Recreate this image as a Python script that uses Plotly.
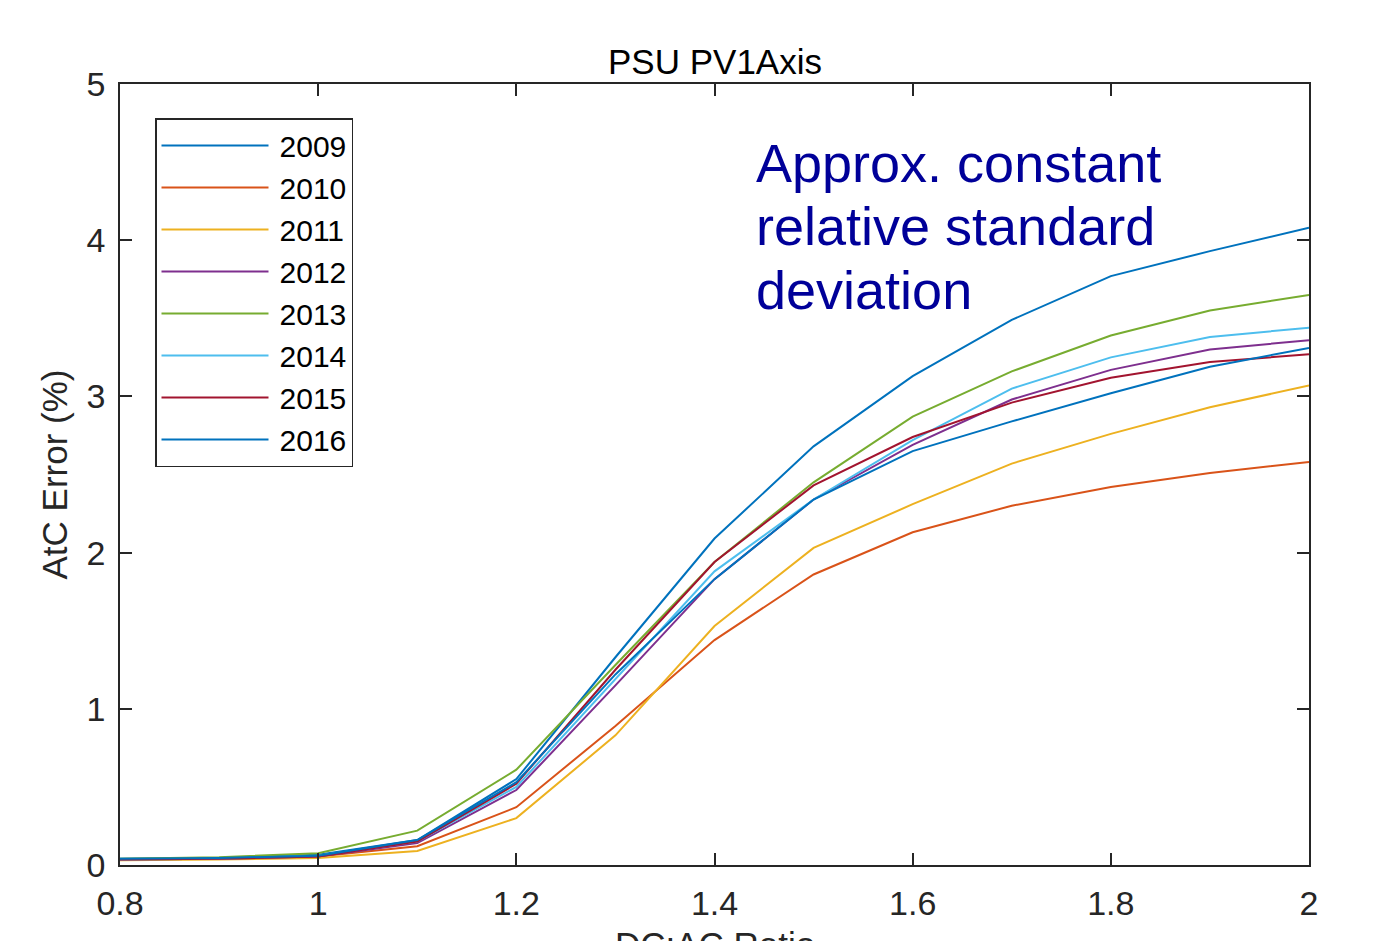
import plotly.graph_objects as go

x_ratio = [0.8, 0.9, 1.0, 1.1, 1.2, 1.3, 1.4, 1.5, 1.6, 1.7, 1.8, 1.9, 2.0]

y2009 = [0.040, 0.045, 0.065, 0.16, 0.55, 1.33, 2.09, 2.68, 3.13, 3.49, 3.77, 3.93, 4.08]
y2010 = [0.035, 0.040, 0.055, 0.12, 0.37, 0.89, 1.44, 1.86, 2.13, 2.30, 2.42, 2.51, 2.58]
y2011 = [0.030, 0.035, 0.045, 0.09, 0.30, 0.83, 1.53, 2.03, 2.31, 2.57, 2.76, 2.93, 3.07]
y2012 = [0.035, 0.040, 0.055, 0.14, 0.48, 1.15, 1.83, 2.34, 2.69, 2.98, 3.17, 3.30, 3.36]
y2013 = [0.040, 0.050, 0.075, 0.22, 0.61, 1.28, 1.94, 2.45, 2.87, 3.16, 3.39, 3.55, 3.65]
y2014 = [0.035, 0.040, 0.060, 0.15, 0.50, 1.19, 1.88, 2.34, 2.72, 3.05, 3.25, 3.38, 3.44]
y2015 = [0.035, 0.040, 0.055, 0.15, 0.52, 1.25, 1.94, 2.43, 2.74, 2.96, 3.12, 3.22, 3.27]
y2016 = [0.040, 0.045, 0.060, 0.16, 0.53, 1.22, 1.83, 2.34, 2.65, 2.84, 3.02, 3.19, 3.31]

years = ["2009", "2010", "2011", "2012", "2013", "2014", "2015", "2016"]
series = [y2009, y2010, y2011, y2012, y2013, y2014, y2015, y2016]
colors = ["#0072BD", "#D95319", "#EDB120", "#7E2F8E", "#77AC30", "#4DBEEE", "#A2142F", "#0072BD"]

x_ticks = [0.8, 1.0, 1.2, 1.4, 1.6, 1.8, 2.0]
x_tick_text = ["0.8", "1", "1.2", "1.4", "1.6", "1.8", "2"]
y_ticks = [0, 1, 2, 3, 4, 5]

note_lines = ["Approx. constant", "relative standard", "deviation"]

FONT = "Liberation Sans, Arial, Helvetica, sans-serif"
AX = "#262626"

fig = go.Figure()
for name, ys, c in zip(years, series, colors):
    fig.add_trace(go.Scatter(x=x_ratio, y=ys, mode="lines", name="\u2009" + name,
                             line=dict(color=c, width=2)))

axis_common = dict(showline=True, linecolor=AX, linewidth=1.5, mirror="ticks",
                   ticks="inside", ticklen=12, tickwidth=1.5, tickcolor=AX,
                   showgrid=False, zeroline=False,
                   tickfont=dict(family=FONT, size=34, color=AX))

fig.update_layout(
    width=1391, height=941,
    margin=dict(l=120, r=82, t=84, b=76, autoexpand=False),
    paper_bgcolor="white", plot_bgcolor="white",
    font=dict(family=FONT, color=AX),
    xaxis=dict(range=[0.8, 2.0], tickvals=x_ticks, ticktext=x_tick_text,
               ticklabelstandoff=7, **axis_common),
    yaxis=dict(range=[0, 5], tickvals=y_ticks, ticklabelstandoff=6, **axis_common),
    showlegend=True,
    legend=dict(x=(155 - 120) / 1189, y=(865 - 118) / 781, xanchor="left", yanchor="top",
                bgcolor="white", bordercolor=AX, borderwidth=1.5,
                font=dict(family=FONT, size=30, color="black"),
                itemwidth=107, tracegroupgap=0),
)

fig.add_annotation(text="PSU PV1Axis", xref="paper", yref="paper", x=0.5, y=1.0,
                   xanchor="center", yanchor="bottom", yshift=1, showarrow=False,
                   font=dict(family=FONT, size=35, color="black"))
fig.add_annotation(text="AtC Error (%)", xref="paper", yref="paper", x=-0.0555, y=0.5,
                   xanchor="center", yanchor="middle", textangle=-90, showarrow=False,
                   font=dict(family=FONT, size=35, color=AX))
fig.add_annotation(text="DC:AC Ratio", xref="paper", yref="paper", x=0.5, y=-0.1018,
                   xanchor="center", yanchor="middle", showarrow=False,
                   font=dict(family=FONT, size=35, color=AX))
note_tops = [131, 194, 258]
for line_text, top in zip(note_lines, note_tops):
    fig.add_annotation(text=line_text, xref="paper", yref="paper",
                       x=(754 - 120) / 1189, y=(865 - top) / 781,
                       xanchor="left", yanchor="top", align="left", showarrow=False,
                       font=dict(family=FONT, size=54, color="#000099"))

fig.write_html("out.html")
